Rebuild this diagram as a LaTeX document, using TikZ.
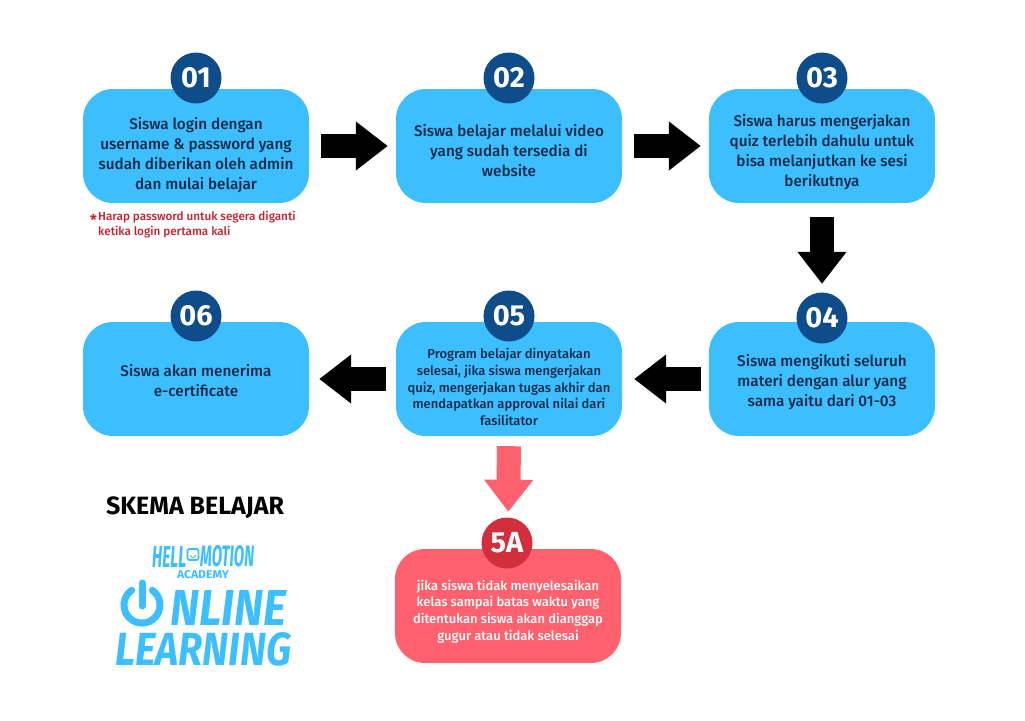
\documentclass[tikz,border=0pt]{standalone}
\usepackage{fontspec}
\usepackage{graphicx}
\setmainfont{Fira Sans Medium}[BoldFont={Fira Sans Bold},ItalicFont={Fira Sans Italic},BoldItalicFont={Fira Sans Bold Italic}]
\usetikzlibrary{arrows.meta}
\definecolor{boxblue}{HTML}{3DBEFF}
\definecolor{boxred}{HTML}{FF616E}
\definecolor{badgeblue}{HTML}{0F4C8A}
\definecolor{badgered}{HTML}{D12F3C}
\definecolor{bodyink}{HTML}{0B2A47}
\definecolor{noteink}{HTML}{C8202F}
\tikzset{
  stepbox/.style={rounded corners=30pt, minimum width=226pt, minimum height=114pt, inner sep=0pt},
  steptext/.style={inner sep=0pt, align=center, text=bodyink, font=\fontsize{15.3}{20}\selectfont},
  smalltext/.style={font=\fontsize{13}{16.7}\selectfont},
  badge/.style={circle, minimum size=51pt, inner sep=0pt, text=white, font=\fontsize{29}{29}\selectfont\bfseries},
  blockarrow/.style={line width=24pt, -{Triangle[length=32pt,width=47pt]}},
  logoword/.style={inner sep=0pt, text=boxblue},
}
\newcommand{\stepA}[8]{ \node[stepbox, fill=boxblue] (#1) at (#2,#3) {}; \node[badge, fill=badgeblue] (#1b) at (#2,#3-#4) {#5}; \node[steptext, #7] (#1t) at (#2,#3+#6) {#8};}
\begin{document}
\begin{tikzpicture}[x=1pt,y=-1pt]
\useasboundingbox (0,0) rectangle (1025,720);
% row1
\stepA{boxa}{196}{146}{68}{01}{9}{}{Siswa login dengan\\username \& password yang\\sudah diberikan oleh admin\\dan mulai belajar}
\stepA{boxb}{509}{146}{68}{02}{5}{}{Siswa belajar melalui video\\yang sudah tersedia di\\website}
\stepA{boxc}{822}{146}{68}{03}{6}{}{Siswa harus mengerjakan\\quiz terlebih dahulu untuk\\bisa melanjutkan ke sesi\\berikutnya}
% row2
\stepA{boxd}{822}{379}{61}{04}{3}{}{Siswa mengikuti seluruh\\materi dengan alur yang\\sama yaitu dari 01-03}
\stepA{boxe}{509}{379}{63}{05}{8}{smalltext}{Program belajar dinyatakan\\selesai, jika siswa mengerjakan\\quiz, mengerjakan tugas akhir dan\\mendapatkan approval nilai dari\\fasilitator}
\stepA{boxf}{196}{379}{63}{06}{2}{}{Siswa akan menerima\\e-certificate}
% row3
\node[stepbox, fill=boxred] (boxg) at (508,606) {};
\node[badge, fill=badgered] (boxgb) at (507,543) {5A};
\node[steptext, smalltext, text=white] (boxgt) at (508,611.5) {jika siswa tidak menyelesaikan\\kelas sampai batas waktu yang\\ditentukan siswa akan dianggap\\gugur atau tidak selesai};
% note
\node[inner sep=0pt, anchor=north west, align=left, text=noteink, font=\fontsize{11.7}{15}\selectfont] (notetext) at (98,211) {Harap password untuk segera diganti\\ketika login pertama kali};
\node[inner sep=0pt, text=noteink, font=\fontsize{15}{15}\selectfont\bfseries] (notestar) at (93.5,220) {*};
% arrows
\draw[blockarrow, shorten <=12pt, shorten >=8pt] (boxa.east) -- (boxb.west);
\draw[blockarrow, shorten <=12pt, shorten >=8pt] (boxb.east) -- (boxc.west);
\draw[blockarrow, shorten <=14pt, shorten >=38pt] (boxc.south) -- (boxd.north);
\draw[blockarrow, shorten <=8pt, shorten >=12pt] (boxd.west) -- (boxe.east);
\draw[blockarrow, shorten <=10pt, shorten >=10pt] (boxe.west) -- (boxf.east);
\draw[blockarrow, boxred, shorten <=10pt, shorten >=37pt] (boxe.south) -- (boxg.north);
% title
\node[inner sep=0pt, font=\fontsize{25}{25}\selectfont\bfseries] (title) at (195,508) {SKEMA BELAJAR};
% logo
\node[logoword, anchor=west] (logohell) at (152,556.5) {\resizebox{34pt}{21pt}{\bfseries\itshape HELL}};
\node[draw=boxblue, line width=1.6pt, rounded corners=1.5pt, minimum size=11pt, inner sep=0pt] (logoface) at (193,554.5) {};
\draw[boxblue, line width=1pt] (logoface.center) ++(-2.5,0.5) arc[start angle=180, end angle=360, radius=2.5pt];
\node[logoword, anchor=west] (logomotion) at (200,556.5) {\resizebox{54pt}{21pt}{\bfseries\itshape MOTION}};
\node[logoword] (logoacademy) at (203,574.5) {\resizebox{52pt}{8pt}{\bfseries ACADEMY}};
\coordinate (powertop) at (142,583);
\coordinate (powermid) at (142,606);
\coordinate (powerarc) at (131.7,590.3);
\draw[boxblue, line width=7pt, line cap=round] (powertop) -- (powermid);
\draw[boxblue, line width=7pt, line cap=round] (powerarc) arc[start angle=125, end angle=415, radius=18pt];
\node[logoword, anchor=west] (logoonline) at (170,607.5) {\resizebox{116pt}{35pt}{\bfseries\itshape NLINE}};
\node[logoword, anchor=west] (logolearning) at (115,649) {\resizebox{176pt}{33pt}{\bfseries\itshape LEARNING}};
\end{tikzpicture}
\end{document}
